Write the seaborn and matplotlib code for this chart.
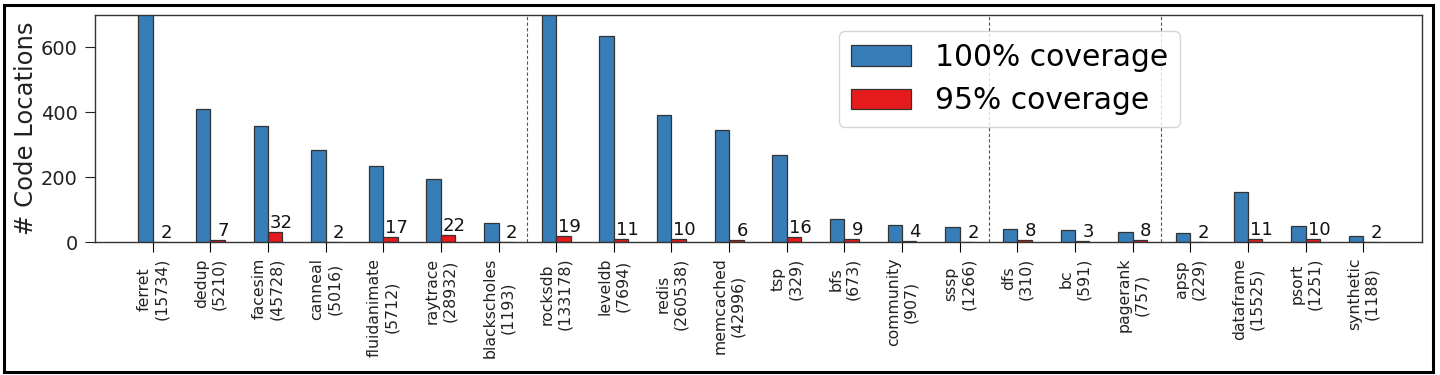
import matplotlib
matplotlib.use("Agg")
import matplotlib.pyplot as plt
from matplotlib.patches import Rectangle
import seaborn as sns
import pandas as pd

apps = ["ferret", "dedup", "facesim", "canneal", "fluidanimate", "raytrace",
        "blackscholes", "rocksdb", "leveldb", "redis", "memcached", "tsp", "bfs",
        "community", "sssp", "dfs", "bc", "pagerank", "apsp", "dataframe",
        "psort", "synthetic"]
total_locs = [15734, 5210, 45728, 5016, 5712, 28932, 1193, 133178, 7694,
              260538, 42996, 329, 673, 907, 1266, 310, 591, 757, 229, 15525,
              1251, 1188]
cov100 = [800, 410, 358, 284, 234, 195, 60, 760, 636, 392, 346, 269, 71, 52,
          47, 40, 37, 31, 28, 154, 51, 20]
cov95 = [2, 7, 32, 2, 17, 22, 2, 19, 11, 10, 6, 16, 9, 4, 2, 8, 3, 8, 2, 11,
         10, 2]
series_names = ["100% coverage", "95% coverage"]
group_breaks = [6.5, 14.5, 17.5]
yticks = [0, 200, 400, 600]

tick_labels = [f"{a}\n({n})" for a, n in zip(apps, total_locs)]

df = pd.DataFrame({
    "app": apps * 2,
    "value": cov100 + cov95,
    "series": [series_names[0]] * len(apps) + [series_names[1]] * len(apps),
})

fig = plt.figure(figsize=(14.4, 3.75), dpi=100)
ax = fig.add_axes([0.066, 0.354, 0.9215, 0.606])

sns.barplot(data=df, x="app", y="value", hue="series", order=apps,
            hue_order=series_names, palette=["#377eb8", "#e41a1c"],
            saturation=1, width=0.5, edgecolor="#333333", linewidth=0.9,
            ax=ax, legend=False)

for xb in group_breaks:
    ax.axvline(xb, color="#555555", linestyle=(0, (3, 2)), linewidth=0.8, zorder=0)

red = ax.containers[1]
for p, v in zip(red.patches, cov95):
    ax.text(p.get_x() + p.get_width() * 0.92, p.get_height(), str(v),
            ha="center", va="bottom", fontsize=13, color="#111111")

ax.set_xlim(-1.0, len(apps) + 0.02)
ax.set_ylim(0, 700)
ax.set_yticks(yticks)
ax.set_xticks(range(len(apps)))
ax.set_xticklabels(tick_labels, rotation=90, fontsize=11.3, multialignment="center",
                   color="#222222")
ax.tick_params(axis="y", labelsize=14, length=7.5, pad=5, colors="#222222")
ax.tick_params(axis="x", length=7, pad=4)
ax.set_xlabel("")
ax.set_ylabel("# Code Locations", fontsize=17.5, color="#222222", labelpad=2)
for s in ax.spines.values():
    s.set_color("#333333")
    s.set_linewidth(1.0)

ax.legend(ax.containers, series_names, fontsize=21.4, loc="upper left",
          bbox_to_anchor=(0.561, 0.931), borderaxespad=0)

fig.patches.append(Rectangle((3.5 / 1440, 1 - 371.5 / 375), 1429.5 / 1440,
                             366.5 / 375, transform=fig.transFigure,
                             fill=False, edgecolor="black", linewidth=2.2))

fig.savefig("out.png", dpi=100)
